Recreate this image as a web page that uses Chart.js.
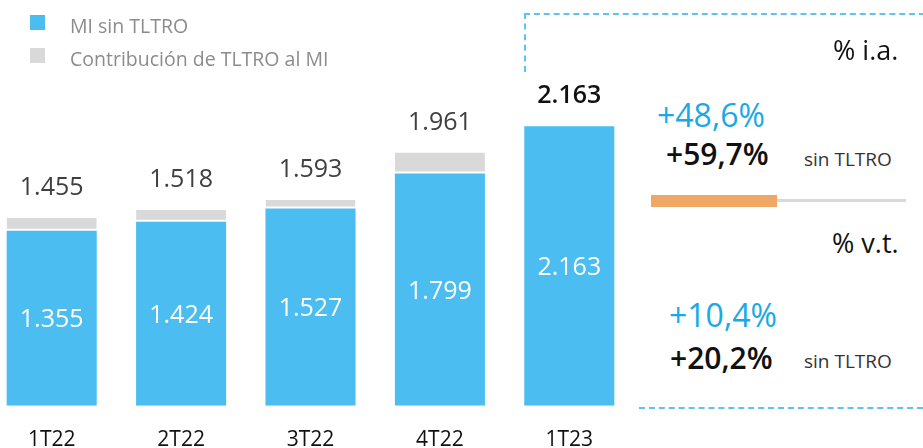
<!DOCTYPE html>
<html>
<head>
<meta charset="utf-8">
<script src="https://cdn.jsdelivr.net/npm/chart.js@4"></script>
<style>
  html, body { margin: 0; padding: 0; background: #fff; overflow: hidden; }
  body { width: 923px; height: 448px; position: relative; font-family: "Open Sans", "Noto Sans", sans-serif; }
  #wrap { position: absolute; left: -13px; top: 0; width: 647px; height: 483px; }
  .t { position: absolute; white-space: nowrap; line-height: 1; }
  .leg { position: absolute; left: 30px; font-size: 19.5px; color: #8c8c8c; }
  .leg i { position: absolute; left: 0; top: 2px; width: 15px; height: 15px; }
  .leg span { position: absolute; left: 40px; top: -1px; white-space: nowrap; }
  .dash { position: absolute; border-color: #5cc4ee; border-style: dashed; border-width: 0; }
</style>
</head>
<body>
<div id="wrap"><canvas id="myChart"></canvas></div>

<div class="leg" style="top:13px"><i style="background:#4bbdf0"></i><span>MI sin TLTRO</span></div>
<div class="leg" style="top:46px"><i style="background:#d9d9d9"></i><span>Contribución de TLTRO al MI</span></div>

<div class="dash" style="left:524px; top:13px; width:399px; height:57px; border-top-width:2px; border-left-width:2px;"></div>
<div class="dash" style="left:639px; top:407px; width:284px; height:0; border-top-width:2px;"></div>

<div class="t" style="left:833px; top:36px; font-size:27px; color:#111;">% i.a.</div>
<div class="t" style="left:657px; top:99px; font-size:32px; color:#1aa9e6; font-weight:500;">+48,6%</div>
<div class="t" style="left:666px; top:139px; font-size:30px; color:#111; font-weight:600;">+59,7%</div>
<div class="t" style="left:804px; top:150px; font-size:19px; color:#333;">sin TLTRO</div>
<div style="position:absolute; left:651px; top:195px; width:126px; height:12px; background:#eea765;"></div>
<div style="position:absolute; left:777px; top:199px; width:129px; height:3px; background:#d9d9d9;"></div>

<div class="t" style="left:832px; top:229px; font-size:27px; color:#111;">% v.t.</div>
<div class="t" style="left:669px; top:299px; font-size:32px; color:#1aa9e6; font-weight:500;">+10,4%</div>
<div class="t" style="left:670px; top:343px; font-size:30px; color:#111; font-weight:600;">+20,2%</div>
<div class="t" style="left:804px; top:352px; font-size:19px; color:#333;">sin TLTRO</div>

<script>
const labels = ["1T22", "2T22", "3T22", "4T22", "1T23"];
const miSinTltro = [1355, 1424, 1527, 1799, 2163];
const tltro = [100, 94, 66, 162, 0];
const totals = [1455, 1518, 1593, 1961, 2163];

const BLUE = '#4bbdf0';
const GREY = '#d9d9d9';

function fmt(v) {
  return String(v).replace(/\B(?=(\d{3})+(?!\d))/g, '.');
}

// labels inside the blue bars and above the stacks
const valueLabels = {
  id: 'valueLabels',
  afterDatasetsDraw(chart) {
    const ctx = chart.ctx;
    const m0 = chart.getDatasetMeta(0);
    const m1 = chart.getDatasetMeta(1);
    const y = chart.scales.y;
    ctx.save();
    ctx.textAlign = 'center';
    ctx.textBaseline = 'middle';
    m0.data.forEach((bar, i) => {
      ctx.font = '25px "Open Sans", sans-serif';
      ctx.fillStyle = '#fff';
      ctx.fillText(fmt(miSinTltro[i]), bar.x, (bar.y + bar.base) / 2 + 2);
      const top = y.getPixelForValue(totals[i]);
      const last = i === totals.length - 1;
      ctx.font = (last ? '600 ' : '') + '25px "Open Sans", sans-serif';
      ctx.fillStyle = last ? '#111' : '#404040';
      ctx.fillText(fmt(totals[i]), m1.data[i].x, top - 30);
    });
    ctx.restore();
  }
};

const data = {
  labels: labels,
  datasets: [
    {
      label: 'MI sin TLTRO',
      data: miSinTltro,
      backgroundColor: BLUE,
      borderWidth: 0
    },
    {
      label: 'Contribución de TLTRO al MI',
      data: tltro,
      backgroundColor: GREY,
      borderColor: '#fff',
      borderWidth: {top: 0, left: 0, right: 0, bottom: 2},
      borderSkipped: false
    }
  ]
};

const config = {
  type: 'bar',
  data: data,
  plugins: [valueLabels],
  options: {
    responsive: true,
    maintainAspectRatio: false,
    animation: false,
    layout: { padding: { top: 57, bottom: 8, left: 0, right: 0 } },
    datasets: {
      bar: { categoryPercentage: 1, barPercentage: 0.696 }
    },
    scales: {
      x: {
        stacked: true,
        grid: { display: false, drawTicks: false },
        border: { display: false },
        ticks: { color: '#111', padding: 22, font: { size: 21, family: '"Open Sans", sans-serif' } }
      },
      y: {
        stacked: true,
        min: 0,
        max: 2700,
        display: false
      }
    },
    plugins: {
      legend: { display: false },
      tooltip: { enabled: false }
    }
  }
};

const myChart = new Chart(document.getElementById('myChart'), config);
</script>
</body>
</html>
